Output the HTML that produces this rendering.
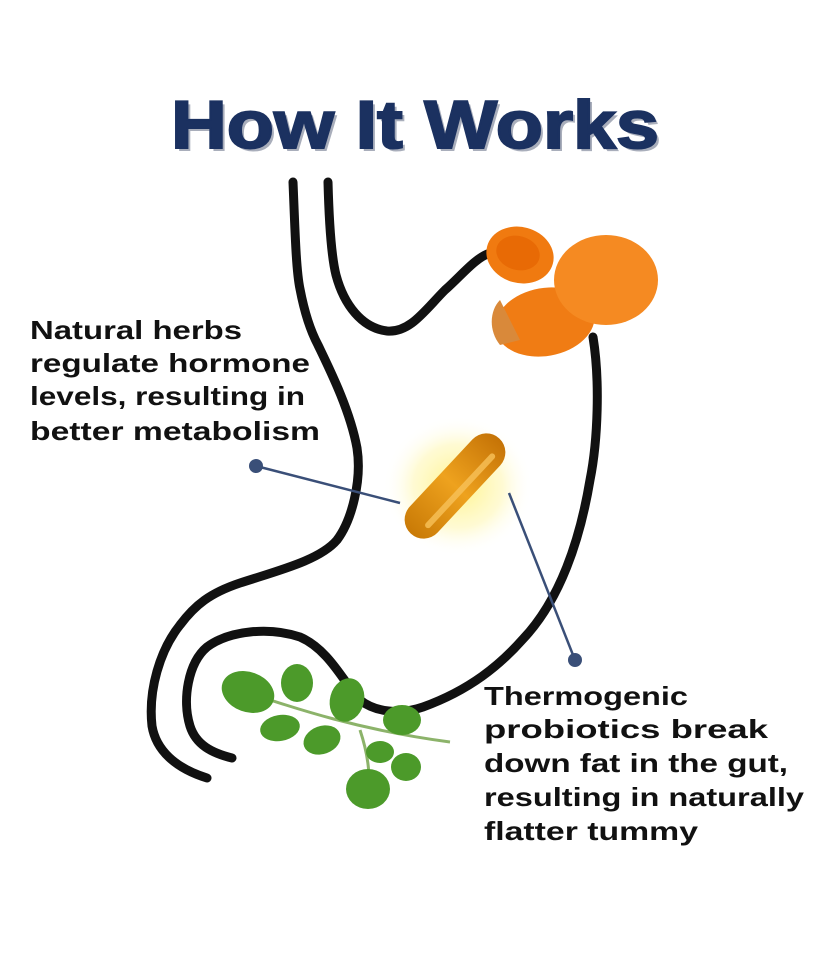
<!DOCTYPE html>
<html><head><meta charset="utf-8"><style>
html,body{margin:0;padding:0;background:#fff;}
svg{display:block;}
text{font-family:"Liberation Sans",sans-serif;font-weight:bold;}
</style></head><body>
<svg width="825" height="960" viewBox="0 0 825 960" xmlns="http://www.w3.org/2000/svg">
<defs>
<radialGradient id="glow" cx="50%" cy="50%" r="50%">
<stop offset="0" stop-color="#fff27a" stop-opacity="0.9"/>
<stop offset="0.6" stop-color="#fff6a8" stop-opacity="0.5"/>
<stop offset="1" stop-color="#fff" stop-opacity="0"/>
</radialGradient>
<linearGradient id="cap" x1="0" y1="0" x2="1" y2="0">
<stop offset="0" stop-color="#c97a06"/>
<stop offset="0.5" stop-color="#eea21e"/>
<stop offset="1" stop-color="#c57306"/>
</linearGradient>
</defs>
<rect width="825" height="960" fill="#fff"/>
<text x="415" y="148" text-anchor="middle" font-size="68" fill="#a9aebb" textLength="488" lengthAdjust="spacingAndGlyphs" transform="translate(3,3)">How It Works</text>
<text x="415" y="148" text-anchor="middle" font-size="68" fill="#1b3160" textLength="488" lengthAdjust="spacingAndGlyphs" stroke="#1b3160" stroke-width="2">How It Works</text>

<g fill="none" stroke="#111" stroke-width="9" stroke-linecap="round">
<path d="M293 182 C295 230 296 270 300 289 C304 310 310 330 318 345 C330 370 350 410 357 448 C362 480 352 520 337 540 C320 560 280 570 240 583 C210 593 195 605 180 625 C160 650 148 690 152 726 C156 750 175 768 207 778"/>
<path d="M328 182 C329 220 331 255 336 275 C344 305 362 328 387 331 C410 333 425 310 445 290 C462 275 475 258 490 253"/>
<path d="M593 337 C600 380 598 440 590 480 C580 540 560 600 523 639 C500 665 470 690 423 707 C400 715 375 712 360 700 C345 685 330 650 300 637 C270 627 230 630 207 647 C188 663 182 700 190 726 C196 745 212 753 232 758"/>
</g>

<!-- turmeric -->
<g>
<ellipse cx="545" cy="322" rx="50" ry="34" fill="#f07c14" transform="rotate(-10 545 322)"/>
<path d="M500 300 C490 310 488 330 500 345 L520 340 Z" fill="#d9893a"/>
<ellipse cx="606" cy="280" rx="52" ry="45" fill="#f58a22"/>
<ellipse cx="520" cy="255" rx="34" ry="28" fill="#f07a10" transform="rotate(15 520 255)"/>
<ellipse cx="518" cy="253" rx="22" ry="17" fill="#e86a05" transform="rotate(15 518 253)"/>
</g>

<!-- capsule -->
<ellipse cx="458" cy="486" rx="75" ry="70" fill="url(#glow)"/>
<g transform="rotate(-47 455 486)">
<rect x="390" y="467" width="130" height="38" rx="19" fill="url(#cap)" transform="rotate(0)"/>
<rect x="405" y="490" width="100" height="6" rx="3" fill="#f7c25a" opacity="0.8"/>
</g>

<!-- connectors -->
<g stroke="#3a4f78" stroke-width="2.5">
<line x1="256" y1="466" x2="400" y2="503"/>
<line x1="509" y1="493" x2="575" y2="660"/>
</g>
<circle cx="256" cy="466" r="7" fill="#3a4f78"/>
<circle cx="575" cy="660" r="7" fill="#3a4f78"/>

<!-- leaves -->
<g>
<path d="M240 690 C300 710 360 730 450 742" stroke="#8cb36a" stroke-width="3" fill="none"/>
<path d="M360 730 C370 760 370 780 368 800" stroke="#8cb36a" stroke-width="3" fill="none"/>
<g fill="#4c9a2a">
<ellipse cx="248" cy="692" rx="27" ry="20" transform="rotate(20 248 692)"/>
<ellipse cx="297" cy="683" rx="16" ry="19"/>
<ellipse cx="280" cy="728" rx="20" ry="13" transform="rotate(-10 280 728)"/>
<ellipse cx="347" cy="700" rx="17" ry="22" transform="rotate(15 347 700)"/>
<ellipse cx="322" cy="740" rx="19" ry="14" transform="rotate(-20 322 740)"/>
<ellipse cx="402" cy="720" rx="19" ry="15"/>
<ellipse cx="380" cy="752" rx="14" ry="11"/>
<ellipse cx="406" cy="767" rx="15" ry="14"/>
<ellipse cx="368" cy="789" rx="22" ry="20"/>
</g>
</g>

<g font-size="26" fill="#111">
<text x="30" y="339" textLength="212" lengthAdjust="spacingAndGlyphs">Natural herbs</text>
<text x="30" y="372" textLength="280" lengthAdjust="spacingAndGlyphs">regulate hormone</text>
<text x="30" y="405" textLength="275" lengthAdjust="spacingAndGlyphs">levels, resulting in</text>
<text x="30" y="440" textLength="290" lengthAdjust="spacingAndGlyphs">better metabolism</text>
<text x="484" y="705" textLength="204" lengthAdjust="spacingAndGlyphs">Thermogenic</text>
<text x="484" y="738" textLength="284" lengthAdjust="spacingAndGlyphs">probiotics break</text>
<text x="484" y="772" textLength="304" lengthAdjust="spacingAndGlyphs">down fat in the gut,</text>
<text x="484" y="806" textLength="320" lengthAdjust="spacingAndGlyphs">resulting in naturally</text>
<text x="484" y="840" textLength="214" lengthAdjust="spacingAndGlyphs">flatter tummy</text>
</g>
</svg>
</body></html>
